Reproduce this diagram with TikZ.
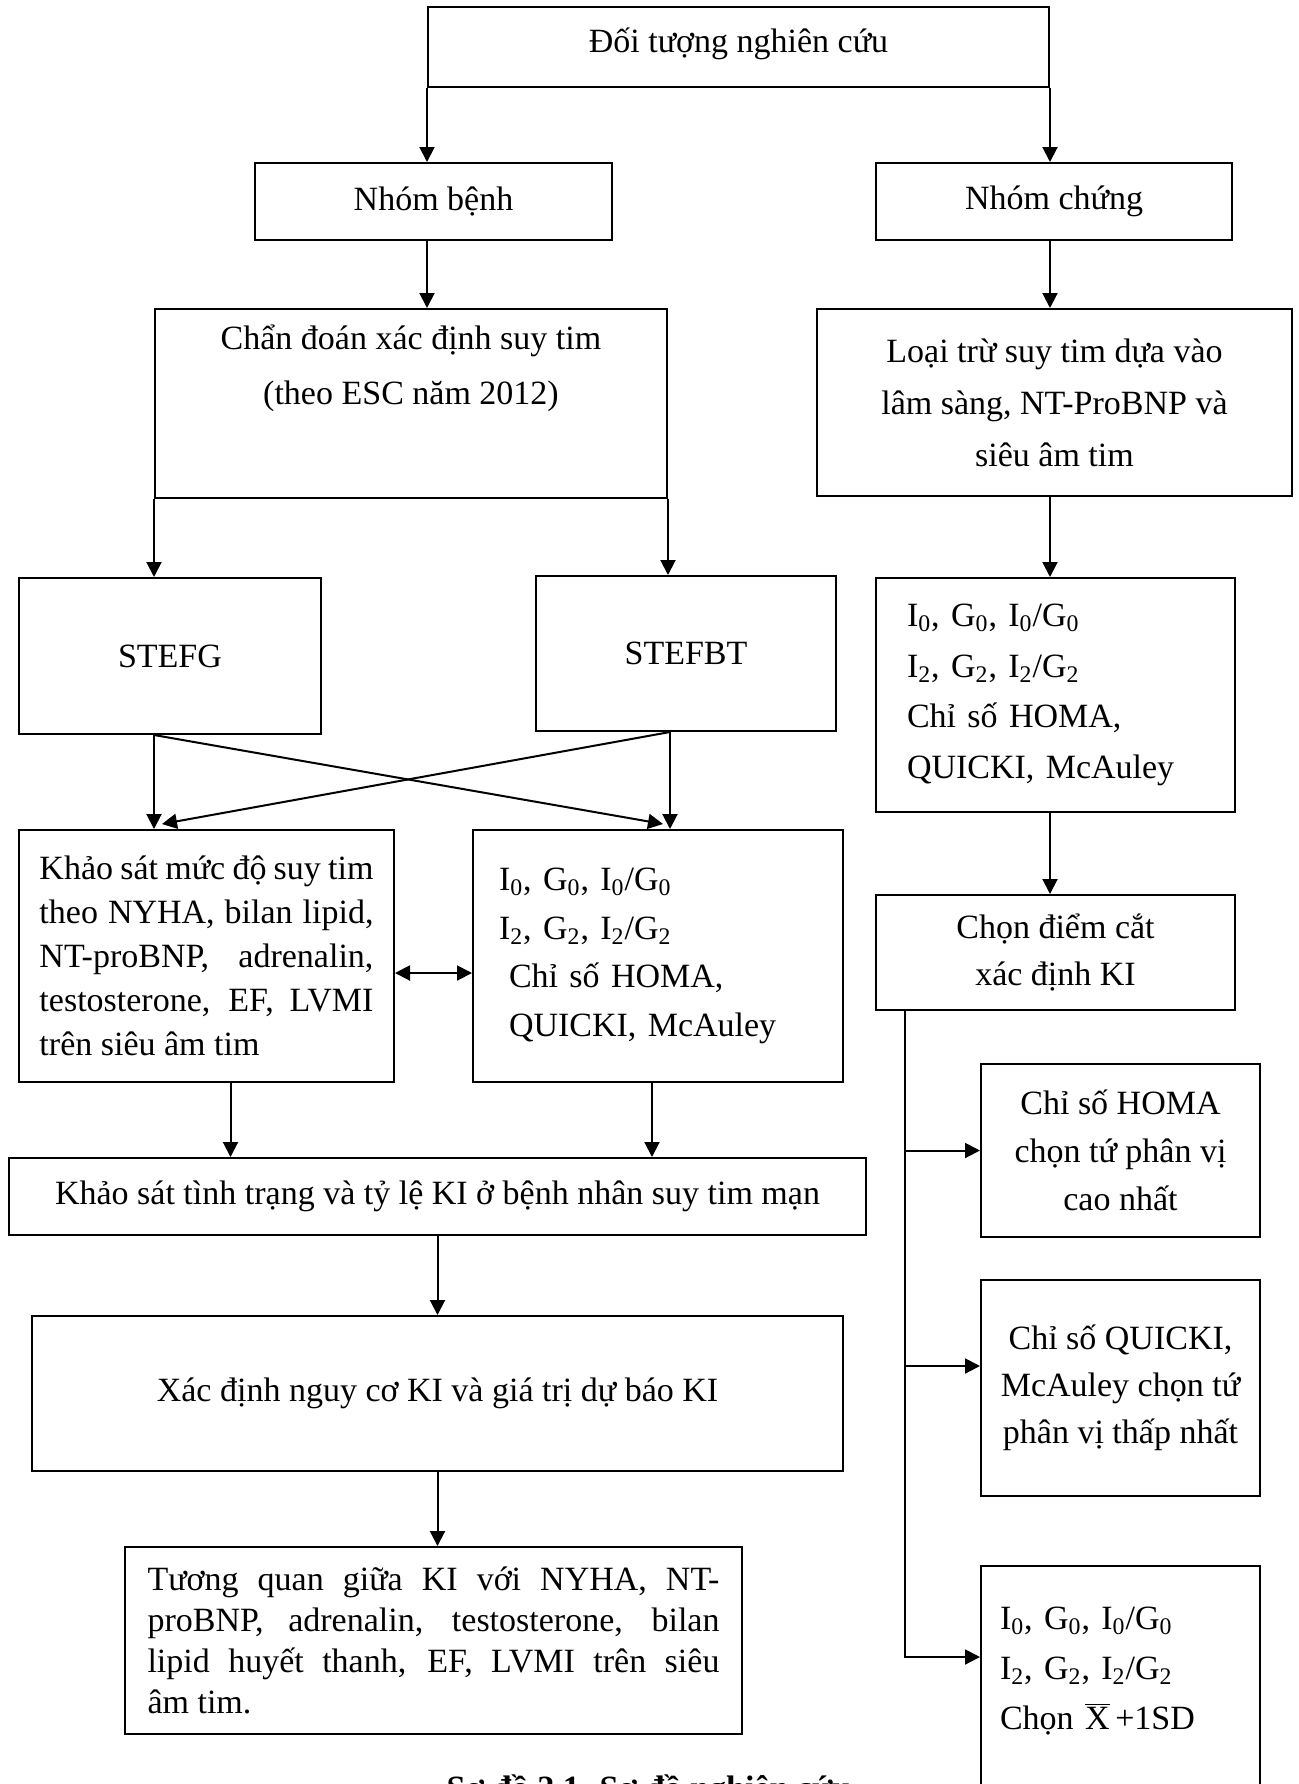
\documentclass[tikz,border=0pt]{standalone}
\usepackage{fontspec}
\setmainfont{Liberation Serif}
\usetikzlibrary{calc,arrows.meta}
\newcommand{\IGzero}{I\textsubscript{0}, G\textsubscript{0}, I\textsubscript{0}/G\textsubscript{0}}
\newcommand{\IGtwo}{I\textsubscript{2}, G\textsubscript{2}, I\textsubscript{2}/G\textsubscript{2}}
\hyphenpenalty=10000

\begin{document}
\begin{tikzpicture}[x=0.5pt,y=-0.5pt,
  box/.style={draw, line width=1pt, inner sep=0pt, font=\fontsize{17}{24}\selectfont},
  arr/.style={->, line width=1pt},
  >={Triangle[length=7.5pt,width=7.5pt]}]

  \useasboundingbox (0,0) rectangle (1299,1784);
  \clip (0,0) rectangle (1299,1784);

  \node[box, minimum width=310.5pt, minimum height=40pt, text depth=7pt] (doituong) at (738.5,47) {Đối tượng nghiên cứu};
  \node[box, minimum width=178.5pt, minimum height=38.5pt] (benh) at (433.5,201.5) {Nhóm bệnh};
  \node[box, minimum width=178pt, minimum height=38.5pt] (chung) at (1054,201.5) {Nhóm chứng};

  \node[box, minimum width=256pt, minimum height=94.5pt, align=center, text depth=39pt,
    font=\fontsize{17}{27.5}\selectfont] (chandoan) at (411,403.5)
    {Chẩn đoán xác định suy tim\\(theo ESC năm 2012)};
  \node[box, minimum width=237.5pt, minimum height=93.5pt, align=center,
    font=\fontsize{17}{26}\selectfont] (loaitru) at (1054.5,402.5)
    {Loại trừ suy tim dựa vào\\lâm sàng, NT-ProBNP và\\siêu âm tim};

  \node[box, minimum width=151pt, minimum height=78pt] (stefg) at (170,656) {STEFG};
  \node[box, minimum width=150pt, minimum height=77.5pt] (stefbt) at (686,653.5) {STEFBT};
  \node[box, minimum width=179.5pt, minimum height=117pt, text width=148.5pt, align=left,
    font=\fontsize{17}{25.3}\selectfont] (chiso1) at (1055.5,695)
    {\IGzero\\\IGtwo\\Chỉ số HOMA,\\QUICKI, McAuley};

  \node[box, minimum width=187.5pt, minimum height=126pt, text width=167pt, align=justify,
    font=\fontsize{17}{22}\selectfont] (khaosat) at (206.5,956)
    {Khảo sát mức độ suy tim\linebreak theo NYHA, bilan lipid,\linebreak NT-proBNP, adrenalin,\linebreak testosterone, EF, LVMI\linebreak trên siêu âm tim};
  \node[box, minimum width=185pt, minimum height=126pt, text width=159pt, align=left,
    font=\fontsize{17}{24.3}\selectfont] (chiso2) at (658,956)
    {\IGzero\\\IGtwo\\\hspace*{5pt}Chỉ số HOMA,\\\hspace*{5pt}QUICKI, McAuley};
  \node[box, minimum width=179.5pt, minimum height=57.5pt, align=center,
    font=\fontsize{17}{23.5}\selectfont] (diemcat) at (1055.5,952.5)
    {Chọn điểm cắt\\xác định KI};

  \node[box, minimum width=428.5pt, minimum height=38.5pt] (tinhtrang) at (437.5,1196.5)
    {Khảo sát tình trạng và tỷ lệ KI ở bệnh nhân suy tim mạn};
  \node[box, minimum width=405.5pt, minimum height=77.5pt] (xacdinh) at (437.5,1393.5)
    {Xác định nguy cơ KI và giá trị dự báo KI};
  \node[box, minimum width=308.5pt, minimum height=93.5pt, text width=286pt, align=justify,
    font=\fontsize{17}{20.5}\selectfont] (tuongquan) at (433.5,1640.5)
    {Tương quan giữa KI với NYHA, NT-\linebreak proBNP, adrenalin, testosterone, bilan\linebreak lipid huyết thanh, EF, LVMI trên siêu\linebreak âm tim.};

  \node[box, minimum width=139.5pt, minimum height=86.5pt, align=center] (homa) at (1120.5,1150.5)
    {Chỉ số HOMA\\chọn tứ phân vị\\cao nhất};
  \node[box, minimum width=139.5pt, minimum height=108pt, align=center,
    font=\fontsize{17}{23.5}\selectfont] (quicki) at (1120.5,1388)
    {Chỉ số QUICKI,\\McAuley chọn tứ\\phân vị thấp nhất};
  \node[box, minimum width=139.5pt, minimum height=124pt, text width=120.5pt, align=left,
    text depth=72pt, font=\fontsize{17}{25}\selectfont] (xbar) at (1120.5,1690)
    {\IGzero\\\IGtwo\\Chọn $\overline{\hbox{X}}\,$+1SD};

  \node[anchor=base, font=\fontsize{17}{24}\selectfont\bfseries] (caption) at (649,1799)
    {Sơ đồ 2.1. Sơ đồ nghiên cứu};

  \draw[arr] (doituong.south west) -- (doituong.south west |- benh.north);
  \draw[arr] (doituong.south east) -- (doituong.south east |- chung.north);
  \draw[arr] (doituong.south west |- benh.south) -- (doituong.south west |- chandoan.north);
  \draw[arr] (doituong.south east |- chung.south) -- (doituong.south east |- loaitru.north);
  \draw[arr] (chandoan.south west) -- (chandoan.south west |- stefg.north);
  \draw[arr] (chandoan.south east) -- (chandoan.south east |- stefbt.north);
  \draw[arr] (doituong.south east |- loaitru.south) -- (doituong.south east |- chiso1.north);

  \coordinate (sg) at (chandoan.south west |- stefg.south);
  \coordinate (sb) at ([xshift=-8pt]stefbt.south);
  \draw[arr] (sg) -- (sg |- khaosat.north);
  \draw[arr] (sb) -- (sb |- chiso2.north);
  \draw[arr] (sg) -- ($(sb |- chiso2.north)+(-7,-5)$);
  \draw[arr] (sb) -- ($(sg |- khaosat.north)+(8,-5)$);

  \draw[arr, <->] ([yshift=-8.5pt]khaosat.east) -- ([yshift=-8.5pt]chiso2.west);

  \coordinate (k1) at ([xshift=12pt]khaosat.south);
  \coordinate (k2) at ([xshift=-3pt]chiso2.south);
  \draw[arr] (k1) -- (k1 |- tinhtrang.north);
  \draw[arr] (k2) -- (k2 |- tinhtrang.north);
  \draw[arr] (tinhtrang.south) -- (tinhtrang.south |- xacdinh.north);
  \draw[arr] (xacdinh.south) -- (xacdinh.south |- tuongquan.north);

  \draw[arr] (doituong.south east |- chiso1.south) -- (doituong.south east |- diemcat.north);
  \coordinate (t0) at ([xshift=15pt]diemcat.south west);
  \coordinate (qw) at ([yshift=11pt]quicki.west);
  \coordinate (xw) at ([yshift=16.5pt]xbar.west);
  \draw[arr] (t0) -- (t0 |- xw) -- (xw);
  \draw[arr] (t0 |- homa.west) -- (homa.west);
  \draw[arr] (t0 |- qw) -- (qw);

\end{tikzpicture}
\end{document}
